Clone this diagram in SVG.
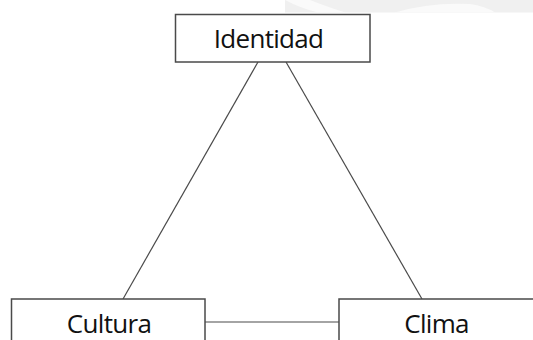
<svg xmlns="http://www.w3.org/2000/svg" width="533" height="340" viewBox="0 0 533 340">
  <style>
    .box { fill: #ffffff; stroke: #4a4a4a; stroke-width: 1.5; }
    .label { font-family: "Open Sans", "Noto Sans", sans-serif; font-size: 26px; letter-spacing: -0.7px; fill: #111111; text-anchor: middle; }
    .link { stroke: #4a4a4a; stroke-width: 1.2; fill: none; }
  </style>
  <!-- faint banner strip along the top -->
  <g id="banner">
    <rect x="285" y="0" width="248" height="12.5" fill="#f0f0f0"/>
    <path d="M285 0 Q300 8 318 12.5 L345 12.5 Q325 6 310 0 Z" fill="#fafafa"/>
    <path d="M395 12.5 Q430 2 470 4 Q485 6 495 12.5 Z" fill="#fafafa"/>
  </g>
  <g id="connectors">
    <line class="link" x1="258" y1="62" x2="123" y2="299"/>
    <line class="link" x1="286" y1="62" x2="422" y2="299"/>
    <line class="link" x1="205" y1="322" x2="339" y2="322"/>
  </g>
  <g id="identidad">
    <rect class="box" x="175.5" y="14.5" width="194.5" height="47.5"/>
    <text class="label" x="268.5" y="47.5">Identidad</text>
  </g>
  <g id="cultura">
    <rect class="box" x="11.5" y="299" width="193.5" height="50"/>
    <text class="label" x="109" y="332.5">Cultura</text>
  </g>
  <g id="clima">
    <rect class="box" x="339" y="299" width="200" height="50"/>
    <text class="label" x="436.5" y="332.5">Clima</text>
  </g>
</svg>
